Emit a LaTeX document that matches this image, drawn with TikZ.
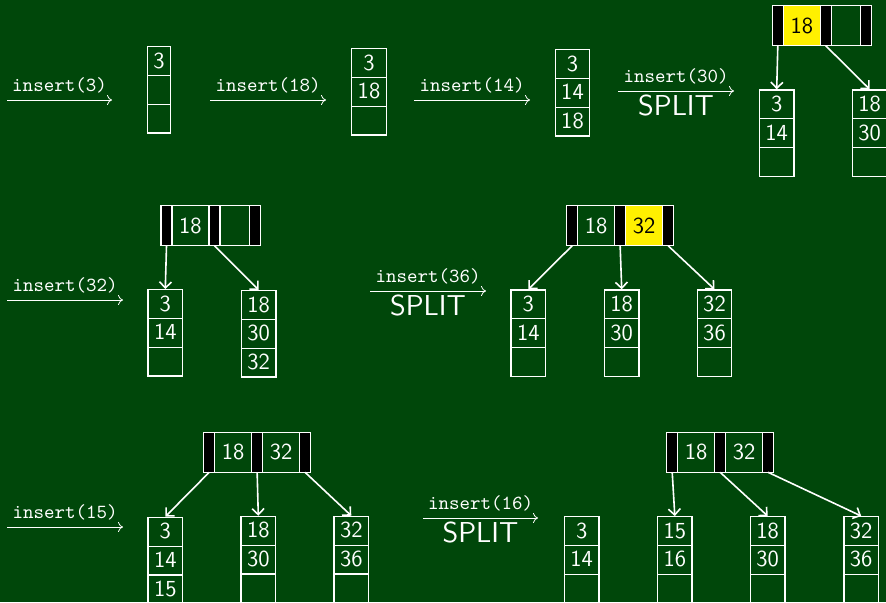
\documentclass[tikz,border=0pt]{standalone}
\usepackage{tikz}
\usetikzlibrary{arrows.meta, positioning, shapes.multipart}
\definecolor{BoardGreen}{RGB}{0,71,10}
\definecolor{KeyYellow}{RGB}{255,240,0}
\newcommand{\cellstrut}{\rule[-3.4pt]{0pt}{13.8pt}}

\begin{document}
\begin{tikzpicture}[
    x=0.5pt, y=-0.5pt,
    leafbox/.style={rectangle split, rectangle split parts=3, draw=white, line width=0.6pt,
                    inner xsep=3pt, inner ysep=0pt, text=white, anchor=north,
                    font=\sffamily\fontsize{11.5}{13}\selectfont},
    ptr/.style={rectangle, draw=white, fill=black, line width=0.6pt, minimum width=5.5pt,
                minimum height=20pt, inner sep=0pt, outer sep=0pt},
    keybox/.style={rectangle, draw=white, line width=0.6pt, minimum width=14.8pt,
                   minimum height=20pt, inner xsep=3.6pt, inner ysep=0pt, outer sep=0pt,
                   text=white, font=\sffamily\fontsize{11.5}{13}\selectfont},
    newkey/.style={keybox, fill=KeyYellow, text=black},
    ins/.style={-{To[length=2.5pt,width=5pt]}, white, line width=0.4pt},
    lbl/.style={text=white, font=\ttfamily},
    splitlbl/.style={text=white, font=\sffamily\Large, inner sep=1.5pt},
    arr/.style={-{Straight Barb[length=3pt,width=6pt]}, white, line width=0.8pt}
]
\useasboundingbox (0,0) rectangle (886,602);
\fill[BoardGreen] (0,0) rectangle (886,602);

% row 1
\coordinate (i1s) at (7,100);   \coordinate (i1e) at (112,100);
\coordinate (i2s) at (210,100); \coordinate (i2e) at (326,100);
\coordinate (i3s) at (414,100); \coordinate (i3e) at (530,100);
\coordinate (i4s) at (618,91);  \coordinate (i4e) at (734,91);
\draw[ins] (i1s) -- node[above, lbl] (t1) {insert(3)} (i1e);
\draw[ins] (i2s) -- node[above, lbl] (t2) {insert(18)} (i2e);
\draw[ins] (i3s) -- node[above, lbl] (t3) {insert(14)} (i3e);
\draw[ins] (i4s) -- node[above, lbl] (t4) {insert(30)}
                    node[below, splitlbl] (s4) {SPLIT} (i4e);

\node[leafbox] (l1) at (159,46) {\cellstrut 3\nodepart{two}\cellstrut\nodepart{three}\cellstrut};
\node[leafbox] (l2) at (369,48) {\cellstrut 3\nodepart{two}\cellstrut 18\nodepart{three}\cellstrut};
\node[leafbox] (l3) at (572.5,49) {\cellstrut 3\nodepart{two}\cellstrut 14\nodepart{three}\cellstrut 18};

\node[ptr, anchor=north west] (r4p1) at (772.3,5.7) {};
\node[newkey, right=0pt of r4p1] (r4k1) {18};
\node[ptr,    right=0pt of r4k1] (r4p2) {};
\node[keybox, right=0pt of r4p2] (r4k2) {};
\node[ptr,    right=0pt of r4k2] (r4p3) {};
\node[leafbox] (l4a) at (776.7,89.3) {\cellstrut 3\nodepart{two}\cellstrut 14\nodepart{three}\cellstrut};
\node[leafbox] (l4b) at (869.7,89.3) {\cellstrut 18\nodepart{two}\cellstrut 30\nodepart{three}\cellstrut};
\draw[arr] (r4p1.south) -- (l4a.north);
\draw[arr] (r4p2.south) -- (l4b.north);

% row 2
\coordinate (i5s) at (7,300);   \coordinate (i5e) at (123,300);
\coordinate (i6s) at (370,291); \coordinate (i6e) at (486,291);
\draw[ins] (i5s) -- node[above, lbl] (t5) {insert(32)} (i5e);
\draw[ins] (i6s) -- node[above, lbl] (t6) {insert(36)}
                    node[below, splitlbl] (s6) {SPLIT} (i6e);

\node[ptr, anchor=north west] (r5p1) at (161,205.7) {};
\node[keybox, right=0pt of r5p1] (r5k1) {18};
\node[ptr,    right=0pt of r5k1] (r5p2) {};
\node[keybox, right=0pt of r5p2] (r5k2) {};
\node[ptr,    right=0pt of r5k2] (r5p3) {};
\node[leafbox] (l5a) at (165.3,289) {\cellstrut 3\nodepart{two}\cellstrut 14\nodepart{three}\cellstrut};
\node[leafbox] (l5b) at (258.7,290) {\cellstrut 18\nodepart{two}\cellstrut 30\nodepart{three}\cellstrut 32};
\draw[arr] (r5p1.south) -- (l5a.north);
\draw[arr] (r5p2.south) -- (l5b.north);

\node[ptr, anchor=north west] (r6p1) at (566.7,205.7) {};
\node[keybox, right=0pt of r6p1] (r6k1) {18};
\node[ptr,    right=0pt of r6k1] (r6p2) {};
\node[newkey, right=0pt of r6p2] (r6k2) {32};
\node[ptr,    right=0pt of r6k2] (r6p3) {};
\node[leafbox] (l6a) at (528.3,289.3) {\cellstrut 3\nodepart{two}\cellstrut 14\nodepart{three}\cellstrut};
\node[leafbox] (l6b) at (621.7,289.3) {\cellstrut 18\nodepart{two}\cellstrut 30\nodepart{three}\cellstrut};
\node[leafbox] (l6c) at (714.5,289.3) {\cellstrut 32\nodepart{two}\cellstrut 36\nodepart{three}\cellstrut};
\draw[arr] (r6p1.south) -- (l6a.north);
\draw[arr] (r6p2.south) -- (l6b.north);
\draw[arr] (r6p3.south) -- (l6c.north);

% row 3
\coordinate (i7s) at (7,527);   \coordinate (i7e) at (123,527);
\coordinate (i8s) at (423,518); \coordinate (i8e) at (538,518);
\draw[ins] (i7s) -- node[above, lbl] (t7) {insert(15)} (i7e);
\draw[ins] (i8s) -- node[above, lbl] (t8) {insert(16)}
                    node[below, splitlbl] (s8) {SPLIT} (i8e);

\node[ptr, anchor=north west] (r7p1) at (203.7,432.3) {};
\node[keybox, right=0pt of r7p1] (r7k1) {18};
\node[ptr,    right=0pt of r7k1] (r7p2) {};
\node[keybox, right=0pt of r7p2] (r7k2) {32};
\node[ptr,    right=0pt of r7k2] (r7p3) {};
\node[leafbox] (l7a) at (165.3,516.7) {\cellstrut 3\nodepart{two}\cellstrut 14\nodepart{three}\cellstrut 15};
\node[leafbox] (l7b) at (258.3,515.7) {\cellstrut 18\nodepart{two}\cellstrut 30\nodepart{three}\cellstrut};
\node[leafbox] (l7c) at (351.3,515.7) {\cellstrut 32\nodepart{two}\cellstrut 36\nodepart{three}\cellstrut};
\draw[arr] (r7p1.south) -- (l7a.north);
\draw[arr] (r7p2.south) -- (l7b.north);
\draw[arr] (r7p3.south) -- (l7c.north);

\node[ptr, anchor=north west] (r8p1) at (666.7,432.3) {};
\node[keybox, right=0pt of r8p1] (r8k1) {18};
\node[ptr,    right=0pt of r8k1] (r8p2) {};
\node[keybox, right=0pt of r8p2] (r8k2) {32};
\node[ptr,    right=0pt of r8k2] (r8p3) {};
\node[leafbox] (l8a) at (581.7,516) {\cellstrut 3\nodepart{two}\cellstrut 14\nodepart{three}\cellstrut};
\node[leafbox] (l8b) at (674.8,516) {\cellstrut 15\nodepart{two}\cellstrut 16\nodepart{three}\cellstrut};
\node[leafbox] (l8c) at (767.7,516) {\cellstrut 18\nodepart{two}\cellstrut 30\nodepart{three}\cellstrut};
\node[leafbox] (l8d) at (861.2,516) {\cellstrut 32\nodepart{two}\cellstrut 36\nodepart{three}\cellstrut};
\draw[arr] (r8p1.south) -- (l8b.north);
\draw[arr] (r8p2.south) -- (l8c.north);
\draw[arr] (r8p3.south) -- (l8d.north);
\end{tikzpicture}
\end{document}
